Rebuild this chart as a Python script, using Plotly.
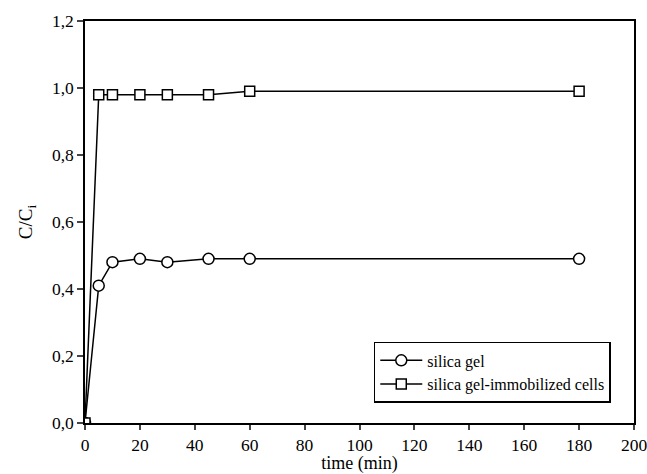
import plotly.graph_objects as go

time_min = [0, 5, 10, 20, 30, 45, 60, 180]
silica_gel = [0.0, 0.41, 0.48, 0.49, 0.48, 0.49, 0.49, 0.49]
silica_cells = [0.0, 0.98, 0.98, 0.98, 0.98, 0.98, 0.99, 0.99]

FONT = "Liberation Serif, Times New Roman, serif"

fig = go.Figure()
fig.add_trace(go.Scatter(
    x=time_min, y=silica_gel, mode="lines+markers", name="silica gel",
    line=dict(color="black", width=1.5),
    marker=dict(symbol="circle", size=11, color="white", line=dict(color="black", width=1.5)),
))
fig.add_trace(go.Scatter(
    x=time_min, y=silica_cells, mode="lines+markers", name="silica gel-immobilized cells",
    line=dict(color="black", width=1.5),
    marker=dict(symbol="square", size=10, color="white", line=dict(color="black", width=1.5)),
))

fig.update_layout(
    width=647, height=474,
    margin=dict(l=85, r=13, t=21, b=51, autoexpand=False),
    paper_bgcolor="white", plot_bgcolor="white",
    font=dict(family=FONT, size=17.5, color="black"),
    separators=", ",
    showlegend=True,
    legend=dict(
        x=0.526, y=0.05, xanchor="left", yanchor="bottom",
        bordercolor="black", borderwidth=1.5, bgcolor="white",
        font=dict(family=FONT, size=16, color="black"),
        tracegroupgap=0, itemwidth=42,
    ),
)
fig.update_xaxes(
    range=[0, 200], tick0=0, dtick=20, ticks="outside", ticklen=5, tickwidth=1.5,
    showline=True, linecolor="black", linewidth=1.5, mirror=True,
    showgrid=False, zeroline=False, automargin=False, ticklabeloverflow="allow",
    title=dict(text="time (min)", font=dict(family=FONT, size=18)),
)
fig.update_yaxes(
    range=[0, 1.2], tick0=0, dtick=0.2, tickformat=".1f", ticks="outside", ticklen=6, tickwidth=1.5,
    showline=True, linecolor="black", linewidth=1.5, mirror=True,
    showgrid=False, zeroline=False, automargin=False,
    title=dict(text="C/C<sub>i</sub>", font=dict(family=FONT, size=19), standoff=14),
)

fig.write_html("out.html")
